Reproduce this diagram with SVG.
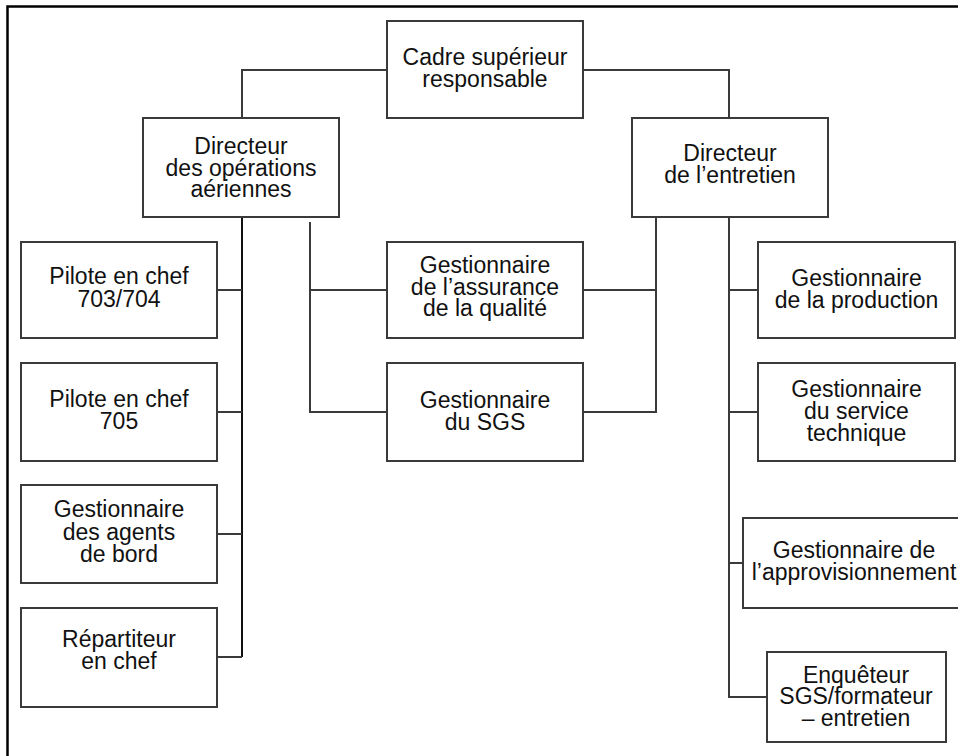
<svg xmlns="http://www.w3.org/2000/svg" width="958" height="756" viewBox="0 0 958 756">
<style>
.box{fill:#fff;stroke:#3a3a3a;stroke-width:2}
.ln{fill:none;stroke:#3a3a3a;stroke-width:2}
.frame{fill:none;stroke:#000;stroke-width:2.5}
text{font-family:"Liberation Sans",Arial,Helvetica,sans-serif;font-size:23px;fill:#111;text-anchor:middle}
</style>
<rect width="958" height="756" fill="#fff"/>
<path class="frame" d="M7.5,756 V6.5 H958"/>
<g id="connectors">
<path class="ln" d="M387,70 H242 V118"/>
<path class="ln" d="M583,70 H729 V118"/>
<path class="ln" d="M242,217 V657" style="stroke:#111"/>
<path class="ln" d="M217,290 H242 M217,412 H242 M217,534 H242 M217,657 H242"/>
<path class="ln" d="M310,222 V412 H387 M310,290 H387"/>
<path class="ln" d="M656,217 V412 H583 M656,290 H583"/>
<path class="ln" d="M729,217 V697 H767 M729,290 H758 M729,412 H758 M729,563 H743"/>
</g>
<g id="cadre"><rect class="box" x="387" y="21" width="196" height="97"/><text x="485" y="65">Cadre supérieur</text><text x="485" y="87">responsable</text></g>
<g id="dir-ops"><rect class="box" x="143" y="118" width="196" height="99"/><text x="241" y="154">Directeur</text><text x="241" y="176">des opérations</text><text x="241" y="197">aériennes</text></g>
<g id="dir-entretien"><rect class="box" x="632" y="118" width="196" height="99"/><text x="730" y="161">Directeur</text><text x="730" y="183">de l’entretien</text></g>
<g id="pilote-703"><rect class="box" x="21" y="242" width="196" height="96"/><text x="119" y="284">Pilote en chef</text><text x="119" y="307">703/704</text></g>
<g id="pilote-705"><rect class="box" x="21" y="363" width="196" height="98"/><text x="119" y="407">Pilote en chef</text><text x="119" y="429">705</text></g>
<g id="agents-bord"><rect class="box" x="21" y="485" width="196" height="98"/><text x="119" y="517">Gestionnaire</text><text x="119" y="540">des agents</text><text x="119" y="562">de bord</text></g>
<g id="repartiteur"><rect class="box" x="21" y="608" width="196" height="99"/><text x="119" y="647">Répartiteur</text><text x="119" y="669">en chef</text></g>
<g id="assurance-qualite"><rect class="box" x="387" y="242" width="196" height="96"/><text x="485" y="273">Gestionnaire</text><text x="485" y="295">de l’assurance</text><text x="485" y="316">de la qualité</text></g>
<g id="sgs"><rect class="box" x="387" y="363" width="196" height="98"/><text x="485" y="408">Gestionnaire</text><text x="485" y="430">du SGS</text></g>
<g id="production"><rect class="box" x="758" y="242" width="197" height="96"/><text x="856.5" y="286">Gestionnaire</text><text x="856.5" y="308">de la production</text></g>
<g id="service-technique"><rect class="box" x="758" y="363" width="197" height="98"/><text x="856.5" y="397">Gestionnaire</text><text x="856.5" y="419">du service</text><text x="856.5" y="441">technique</text></g>
<g id="approvisionnement"><rect class="box" x="743" y="518" width="224" height="90"/><text x="854" y="558">Gestionnaire de</text><text x="854" y="580">l’approvisionnement</text></g>
<g id="enqueteur"><rect class="box" x="767" y="652" width="179" height="90"/><text x="856" y="683">Enquêteur</text><text x="856" y="704">SGS/formateur</text><text x="856" y="726">– entretien</text></g>
</svg>
